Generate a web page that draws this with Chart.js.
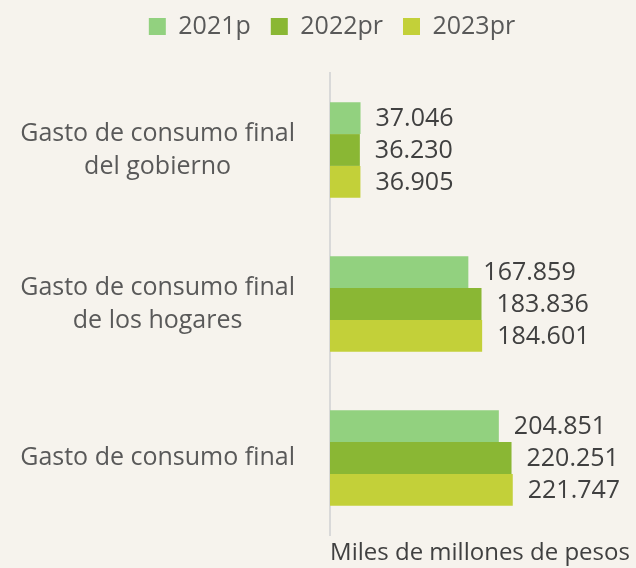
<!DOCTYPE html>
<html>
<head>
<meta charset="utf-8">
<script src="https://cdn.jsdelivr.net/npm/chart.js@4"></script>
<style>
  html, body { margin: 0; padding: 0; background: #f6f3ed; }
  #wrap { width: 636px; height: 568px; }
</style>
</head>
<body>
<div id="wrap"><canvas id="grafico"></canvas></div>
<script>
// Categorias e valores (miles de millones de pesos)
const categorias = [
    ["Gasto de consumo final", "del gobierno"],
    ["Gasto de consumo final", "de los hogares"],
    ["Gasto de consumo final"]
];
const series = ["2021p", "2022pr", "2023pr"];
const valores2021 = [37046, 167859, 204851];
const valores2022 = [36230, 183836, 220251];
const valores2023 = [36905, 184601, 221747];
const cores = ["#92d17f", "#8ab734", "#c3d039"];

const fonte = "'Open Sans', 'DejaVu Sans', sans-serif";

// rotulos no fim das barras (formato 37.046)
const rotulosBarras = {
    id: "rotulosBarras",
    afterDatasetsDraw(chart) {
        const ctx = chart.ctx;
        ctx.save();
        ctx.font = "25px " + fonte;
        ctx.fillStyle = "#404040";
        ctx.textBaseline = "middle";
        ctx.textAlign = "left";
        chart.data.datasets.forEach((ds, i) => {
            chart.getDatasetMeta(i).data.forEach((bar, j) => {
                const txt = ds.data[j].toLocaleString("de-DE");
                ctx.fillText(txt, bar.x + 15, bar.y + 1);
            });
        });
        ctx.restore();
    }
};

// espaco extra abaixo da legenda e legenda deslocada a direita
const margemLegenda = {
    id: "margemLegenda",
    beforeInit(chart) {
        const fitOriginal = chart.legend.fit;
        chart.legend.fit = function () {
            fitOriginal.bind(chart.legend)();
            this.height += 24;
        };
    },
    afterLayout(chart) {
        chart.legend.left += 17;
        chart.legend.right += 17;
    }
};

let dadosGasto = {
    labels: categorias,
    datasets: [
        { label: series[0], data: valores2021, backgroundColor: cores[0] },
        { label: series[1], data: valores2022, backgroundColor: cores[1] },
        { label: series[2], data: valores2023, backgroundColor: cores[2] }
    ]
};

const configGasto = {
    type: "bar",
    data: dadosGasto,
    options: {
        indexAxis: "y",
        responsive: true,
        maintainAspectRatio: false,
        animation: false,
        layout: { padding: { left: 0, right: 6, top: -6, bottom: 0 } },
        datasets: {
            bar: { categoryPercentage: 0.62, barPercentage: 1.0, borderWidth: 0 }
        },
        scales: {
            x: {
                min: 0,
                max: 364000,
                grid: { display: false, drawTicks: false },
                border: { display: false },
                ticks: { display: false },
                afterFit: (scale) => { scale.height = 33; },
                title: {
                    display: true,
                    text: "Miles de millones de pesos",
                    color: "#404040",
                    font: { family: fonte, size: 24 },
                    padding: { top: 4, bottom: 0 }
                }
            },
            y: {
                grid: { display: false },
                border: { display: true, color: "#d9d9d9", width: 2 },
                afterFit: (scale) => {
                    scale.width = 330;
                    scale.paddingTop = 0;
                    scale.paddingBottom = 0;
                },
                ticks: {
                    color: "#595959",
                    crossAlign: "center",
                    padding: 27,
                    font: { family: fonte, size: 25, lineHeight: 1.32 }
                }
            }
        },
        plugins: {
            legend: {
                position: "top",
                labels: {
                    color: "#595959",
                    font: { family: fonte, size: 25 },
                    boxWidth: 17,
                    boxHeight: 17,
                    padding: 20
                }
            },
            tooltip: { enabled: false }
        }
    },
    plugins: [rotulosBarras, margemLegenda]
};

let graficoGasto = new Chart(document.getElementById("grafico"), configGasto);
</script>
</body>
</html>
